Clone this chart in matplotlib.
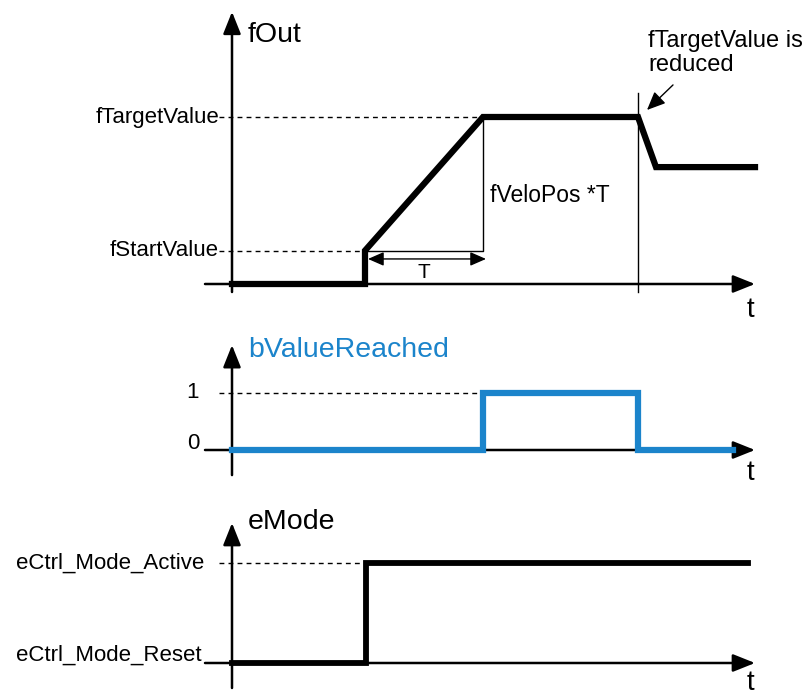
import matplotlib.pyplot as plt

# signal data (time in arbitrary units, 0 = start of the diagram)
t_fout = [0, 1.33, 1.33, 2.51, 4.06, 4.24, 5.23]
v_fout = [0, 0, 1, 5, 5, 3.5, 3.5]
f_start = 1
f_target = 5
t_reached = 2.51
t_reduce = 4.06

t_bvalue = [0, 2.51, 2.51, 4.06, 4.06, 5.01]
v_bvalue = [0, 0, 1, 1, 0, 0]

t_emode = [0, 1.34, 1.34, 5.16]
v_emode = [0, 0, 1, 1]

fout_ticks = ["fStartValue", "fTargetValue"]
bvalue_ticks = ["0", "1"]
emode_ticks = ["eCtrl_Mode_Reset", "eCtrl_Mode_Active"]

BLUE = "#1b84cb"
FONT = "Liberation Sans"

W, H = 804, 695
X0, XS = 232, 100  # pixel of t=0, pixels per time unit
T_LEFT, T_RIGHT = -0.27, 5.23

fig = plt.figure(figsize=(W / 100, H / 100), dpi=100)
plt.rcParams['font.family'] = FONT


def make_panel(top, bottom, zero_y, unit_y):
    ax = fig.add_axes([0, 1 - bottom / H, 1, (bottom - top) / H])
    ax.set_xlim(-X0 / XS, (W - X0) / XS)
    ax.set_ylim((zero_y - bottom) / unit_y, (zero_y - top) / unit_y)
    ax.axis('off')
    return ax


def draw_axes(ax, y_lo, y_hi):
    head = dict(arrowstyle='-|>,head_length=0.75,head_width=0.3', lw=1.8,
                color='black', mutation_scale=18, shrinkA=0, shrinkB=0)
    ax.annotate('', xy=(T_RIGHT, 0), xytext=(T_LEFT, 0), arrowprops=head, zorder=2)
    ax.annotate('', xy=(0, y_hi), xytext=(0, y_lo), arrowprops=head, zorder=2)


def dashed(ax, x_end, y):
    ax.plot([-0.13, x_end], [y, y], color='black', lw=1, ls=(0, (3.5, 3)), zorder=1)


# ---- fOut panel ----
ax1 = make_panel(0, 330, 284, 33.4)
draw_axes(ax1, -0.24, 8.15)
ax1.plot(t_fout, v_fout, color='black', lw=4.5, solid_joinstyle='miter', zorder=4)
dashed(ax1, t_reached, f_target)
dashed(ax1, t_fout[1], f_start)
ax1.plot([t_fout[1], t_reached, t_reached], [f_start, f_start, f_target], color='black', lw=1, zorder=1)
ax1.plot([t_reduce, t_reduce], [-0.24, 5.72], color='black', lw=1, zorder=1)
ax1.annotate('', xy=(t_reached + 0.03, 0.75), xytext=(t_fout[1] + 0.03, 0.75),
             arrowprops=dict(arrowstyle='<|-|>,head_length=0.8,head_width=0.35', lw=1,
                             color='black', mutation_scale=12, shrinkA=0, shrinkB=0))
ax1.text((t_fout[1] + t_reached) / 2, 0.05, "T", ha='center', va='bottom', fontsize=15)
ax1.text(-0.13, f_target, fout_ticks[1], ha='right', va='center', fontsize=16)
ax1.text(-0.13, f_start, fout_ticks[0], ha='right', va='center', fontsize=16)
ax1.text(0.16, 7.46, "fOut", ha='left', va='center', fontsize=20.5)
ax1.text(5.18, -0.78, "t", ha='center', va='center', fontsize=20)
ax1.text(2.58, 2.66, "fVeloPos *T", ha='left', va='center', fontsize=16.5)
ax1.text(4.16, 7.6, "fTargetValue is\nreduced", ha='left', va='top', fontsize=17,
         linespacing=1.1)
ax1.annotate('', xy=(4.15, 5.21), xytext=(4.41, 5.96),
             arrowprops=dict(arrowstyle='-|>,head_length=0.8,head_width=0.35', lw=1,
                             color='black', mutation_scale=14, shrinkA=0, shrinkB=0))

# ---- bValueReached panel ----
ax2 = make_panel(330, 480, 450, 57)
draw_axes(ax2, -0.44, 1.84)
ax2.plot(t_bvalue, v_bvalue, color=BLUE, lw=4.5, solid_joinstyle='miter', zorder=4)
dashed(ax2, t_bvalue[1], 1)
ax2.text(-0.39, 1, bvalue_ticks[1], ha='center', va='center', fontsize=16)
ax2.text(-0.39, 0.12, bvalue_ticks[0], ha='center', va='center', fontsize=16)
ax2.text(0.16, 1.75, "bValueReached", ha='left', va='center', fontsize=20.5, color=BLUE)
ax2.text(5.18, -0.4, "t", ha='center', va='center', fontsize=20)

# ---- eMode panel ----
ax3 = make_panel(480, 695, 663, 100)
draw_axes(ax3, -0.25, 1.4)
ax3.plot(t_emode, v_emode, color='black', lw=4.2, solid_joinstyle='miter', zorder=4)
dashed(ax3, t_emode[1], 1)
ax3.text(-0.28, 1, emode_ticks[1], ha='right', va='center', fontsize=16)
ax3.text(-0.3, 0.08, emode_ticks[0], ha='right', va='center', fontsize=16)
ax3.text(0.16, 1.41, "eMode", ha='left', va='center', fontsize=20.5)
ax3.text(5.18, -0.2, "t", ha='center', va='center', fontsize=20)

fig.savefig("out.png", dpi=100)
